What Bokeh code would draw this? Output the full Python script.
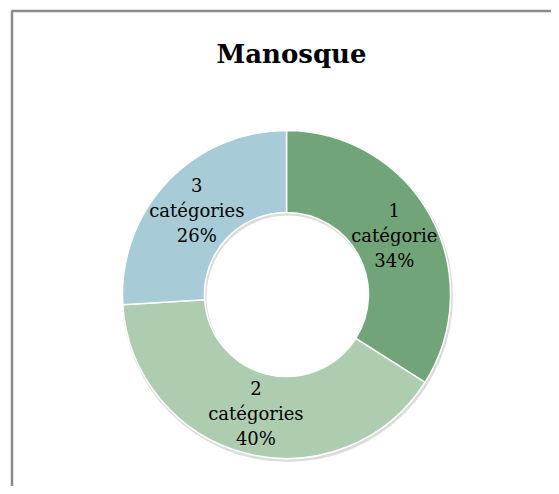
import math
from bokeh.plotting import figure
from bokeh.models import ColumnDataSource, Range1d
from bokeh.core.properties import value
from bokeh.embed import file_html
from bokeh.resources import INLINE

# ---- data ----
categories = ["1\ncatégorie", "2\ncatégories", "3\ncatégories"]
shares = [34, 40, 26]
colors = ["#72A479", "#AECDB0", "#A8CCD7"]
title_text = "Manosque"

# ---- layout (pixel-like data space) ----
W, H = 551, 486
cx, cy = 286, 192
r_out, r_in = 164, 82

total = sum(shares)
starts, ends, lx, ly, labels = [], [], [], [], []
cum = 0.0
for cat, s in zip(categories, shares):
    a0 = math.pi / 2 - 2 * math.pi * cum / total
    cum += s
    a1 = math.pi / 2 - 2 * math.pi * cum / total
    starts.append(a0)
    ends.append(a1)
    mid = (a0 + a1) / 2
    rm = (r_in + r_out) / 2
    lx.append(cx + rm * math.cos(mid))
    ly.append(cy + rm * math.sin(mid))
    labels.append(f"{cat}\n{s}%")

src = ColumnDataSource(dict(start=starts, end=ends, color=colors,
                            lx=lx, ly=ly, label=labels,
                            x=[cx] * 3, y=[cy] * 3))

p = figure(width=W, height=H, x_range=Range1d(0, W), y_range=Range1d(0, H),
           output_backend="svg", toolbar_location=None, min_border=0)
p.axis.visible = False
p.grid.visible = False
p.outline_line_color = None
p.background_fill_color = "white"
p.border_fill_color = "white"

# frame border (left & top visible, rest cropped)
p.line([11.5, 11.5, W + 20], [-20, 475.5, 475.5], line_color="#8a8a8a", line_width=2.5)

# soft shadow
p.annulus(x=cx + 1, y=cy - 2, inner_radius=r_in - 1, outer_radius=r_out + 1.5,
          fill_color="#9a9a9a", fill_alpha=0.35, line_color=None)

p.annular_wedge(x="x", y="y", inner_radius=r_in, outer_radius=r_out,
                start_angle="start", end_angle="end", direction="clock",
                fill_color="color", line_color="white", line_width=1.5, source=src)

# label text
p.text(x="lx", y="ly", text="label", source=src,
       text_font=value("DejaVu Serif"), text_font_size="18px",
       text_align="center", text_baseline="middle", text_line_height=1.2,
       text_color="#000000")

# title
p.text(x=[291], y=[433], text=[title_text], text_font=value("DejaVu Serif"),
       text_font_size="26px", text_font_style="bold", text_align="center",
       text_baseline="alphabetic", text_color="#000000")

open("out.html", "w").write(file_html(p, INLINE))
